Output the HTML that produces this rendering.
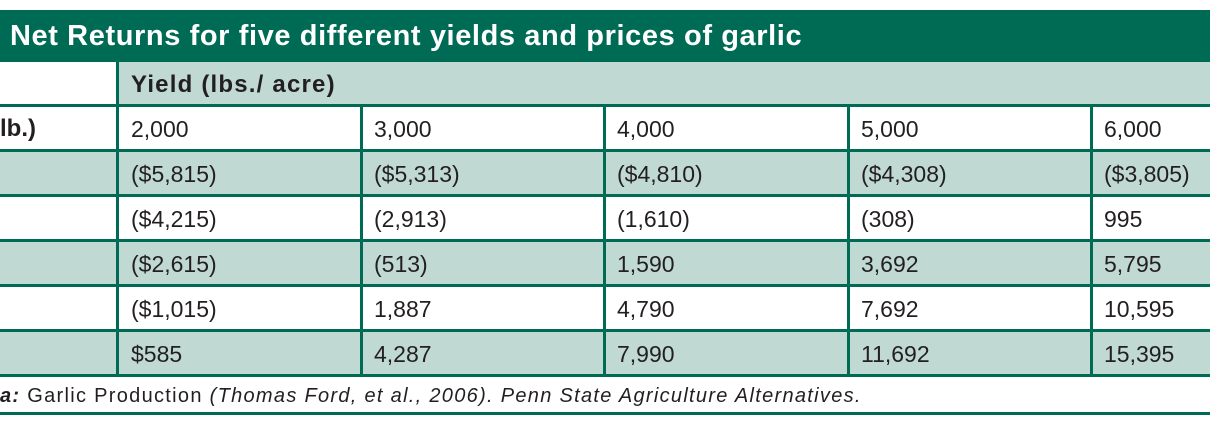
<!DOCTYPE html>
<html><head><style>
body{margin:0;width:1210px;height:423px;background:#fff;position:relative;overflow:hidden;font-family:"Liberation Sans",sans-serif;color:#231f20}
.a{position:absolute}
.t{position:absolute;top:10px;left:0;width:1210px;height:52px;background:#006b55;color:#fff;font-weight:bold;font-size:29px;letter-spacing:0.6px;line-height:52px;padding-left:10px;box-sizing:border-box}
.r{position:absolute;left:0;width:1210px;height:45px}
.g{background:#c0d9d3}
.h{position:absolute;left:0;width:1210px;height:3px;background:#006b55}
.v{position:absolute;width:3px;background:#006b55}
.c{position:absolute;font-size:23px;line-height:42px;white-space:nowrap}
</style></head><body>
<div class="t">Net Returns for five different yields and prices of garlic</div>
<div class="r g" style="top:62px;left:117px;width:1093px"></div>
<div class="r g" style="top:152px"></div>
<div class="r g" style="top:242px"></div>
<div class="r g" style="top:332px"></div>
<div class="h" style="top:104px"></div>
<div class="h" style="top:149px"></div>
<div class="h" style="top:194px"></div>
<div class="h" style="top:239px"></div>
<div class="h" style="top:284px"></div>
<div class="h" style="top:329px"></div>
<div class="h" style="top:374px"></div>
<div class="v" style="left:116px;top:62px;height:315px"></div>
<div class="v" style="left:360px;top:104px;height:273px"></div>
<div class="v" style="left:603px;top:104px;height:273px"></div>
<div class="v" style="left:847px;top:104px;height:273px"></div>
<div class="v" style="left:1090px;top:104px;height:273px"></div>
<div class="c" style="left:131px;top:64px;font-weight:bold;font-size:24px;letter-spacing:1.2px">Yield (lbs./ acre)</div>
<div class="c" style="left:0;top:108px;font-weight:bold;font-size:24px">lb.)</div>
<div class="c" style="left:131px;top:108px">2,000</div><div class="c" style="left:374px;top:108px">3,000</div><div class="c" style="left:617px;top:108px">4,000</div><div class="c" style="left:861px;top:108px">5,000</div><div class="c" style="left:1104px;top:108px">6,000</div>
<div class="c" style="left:131px;top:153px">($5,815)</div><div class="c" style="left:374px;top:153px">($5,313)</div><div class="c" style="left:617px;top:153px">($4,810)</div><div class="c" style="left:861px;top:153px">($4,308)</div><div class="c" style="left:1104px;top:153px">($3,805)</div>
<div class="c" style="left:131px;top:198px">($4,215)</div><div class="c" style="left:374px;top:198px">(2,913)</div><div class="c" style="left:617px;top:198px">(1,610)</div><div class="c" style="left:861px;top:198px">(308)</div><div class="c" style="left:1104px;top:198px">995</div>
<div class="c" style="left:131px;top:243px">($2,615)</div><div class="c" style="left:374px;top:243px">(513)</div><div class="c" style="left:617px;top:243px">1,590</div><div class="c" style="left:861px;top:243px">3,692</div><div class="c" style="left:1104px;top:243px">5,795</div>
<div class="c" style="left:131px;top:288px">($1,015)</div><div class="c" style="left:374px;top:288px">1,887</div><div class="c" style="left:617px;top:288px">4,790</div><div class="c" style="left:861px;top:288px">7,692</div><div class="c" style="left:1104px;top:288px">10,595</div>
<div class="c" style="left:131px;top:333px">$585</div><div class="c" style="left:374px;top:333px">4,287</div><div class="c" style="left:617px;top:333px">7,990</div><div class="c" style="left:861px;top:333px">11,692</div><div class="c" style="left:1104px;top:333px">15,395</div>
<div class="a" style="left:0;top:383px;font-size:20px;letter-spacing:1.3px;line-height:26px;white-space:nowrap"><b><i>a:</i></b> Garlic Production <i>(Thomas Ford, et al., 2006). Penn State Agriculture Alternatives.</i></div>
<div class="h" style="top:412px"></div>
</body></html>
